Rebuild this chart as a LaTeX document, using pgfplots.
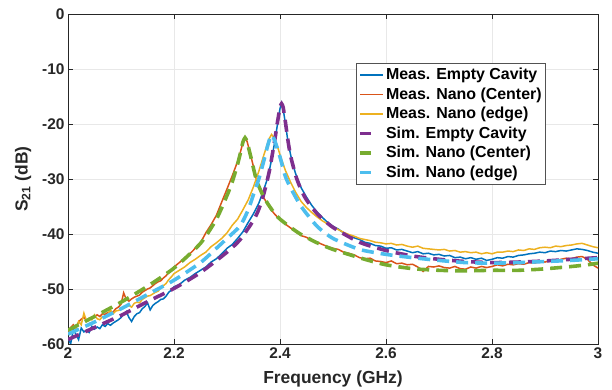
\documentclass[border=0pt]{standalone}
\usepackage{pgfplots}
\pgfplotsset{compat=1.18}
\usepackage{fontspec}
\setmainfont{Liberation Sans}
\definecolor{mblue}{rgb}{0,0.447,0.741}
\definecolor{morange}{rgb}{0.850,0.325,0.098}
\definecolor{myellow}{rgb}{0.929,0.694,0.125}
\definecolor{mpurple}{rgb}{0.494,0.184,0.556}
\definecolor{mgreen}{rgb}{0.466,0.674,0.188}
\definecolor{mlblue}{rgb}{0.301,0.745,0.933}
\definecolor{axc}{rgb}{0.15,0.15,0.15}
\pgfplotsset{
  simline/.style={line width=3.6pt, dash pattern=on 12bp off 7bp, smooth, tension=0.4,
    legend image code/.code={\draw[##1,solid] (0bp,0bp) -- (11bp,0bp);}},
  measline/.style={line width=1.5pt},
}
\begin{document}
\begin{tikzpicture}
\useasboundingbox (-68bp,-46bp) rectangle (544bp,344bp);
\begin{axis}[
  scale only axis,
  width=530bp, height=330bp,
  xmin=2, xmax=3, ymin=-60, ymax=0,
  xtick={2,2.2,2.4,2.6,2.8,3},
  xticklabels={2,2.2,2.4,2.6,2.8,3},
  ytick={-60,-50,-40,-30,-20,-10,0},
  yticklabels={-60,-50,-40,-30,-20,-10,0},
  tick align=inside,
  major tick length=5bp,
  tick style={axc, line width=0.6pt},
  axis line style={axc, line width=0.8pt},
  grid=major,
  major grid style={black!9, line width=0.5pt},
  tick label style={font=\fontsize{15.5}{17}\selectfont\bfseries, text=axc},
  xlabel={Frequency (GHz)},
  ylabel={S\textsubscript{21} (dB)},
  label style={font=\fontsize{17.5}{19}\selectfont\bfseries, text=axc},
  xlabel style={yshift=-6bp},
  ylabel style={yshift=4bp},
  legend cell align=left,
  legend style={at={(0.902,0.852)}, anchor=north east,
    font=\fontsize{16}{17.5}\selectfont\bfseries,
    draw=axc!80, line width=0.8pt, fill=white,
    row sep=2.5bp, inner xsep=2bp, inner ysep=3bp},
  legend image code/.code={\draw[#1,line width=1.5pt] (0bp,0bp) -- (23bp,0bp);},
]
% Meas. Empty Cavity
\addplot[mblue, measline] table {
2.000 -58.9
2.005 -60.0
2.010 -57.4
2.015 -58.2
2.020 -59.2
2.025 -57.1
2.030 -57.8
2.035 -57.5
2.040 -57.9
2.045 -56.8
2.050 -57.3
2.055 -56.9
2.060 -57.2
2.065 -56.5
2.070 -56.8
2.075 -56.3
2.080 -56.6
2.085 -56.2
2.090 -55.9
2.095 -55.6
2.100 -55.2
2.105 -54.6
2.110 -54.1
2.115 -55.2
2.120 -55.9
2.125 -55.0
2.130 -54.5
2.135 -54.3
2.140 -53.6
2.145 -53.2
2.150 -52.5
2.155 -53.8
2.160 -53.0
2.165 -52.6
2.170 -52.3
2.175 -51.9
2.180 -51.8
2.185 -51.3
2.190 -50.6
2.195 -50.2
2.200 -49.6
2.210 -49.2
2.220 -48.4
2.230 -47.9
2.240 -47.2
2.250 -46.6
2.260 -46.0
2.270 -45.1
2.280 -44.5
2.290 -43.6
2.300 -42.6
2.310 -41.9
2.320 -40.8
2.330 -39.6
2.340 -37.9
2.350 -36.3
2.360 -34.4
2.370 -31.8
2.375 -30.3
2.380 -28.4
2.385 -26.0
2.390 -23.3
2.395 -20.2
2.400 -17.2
2.403 -16.2
2.406 -17.3
2.410 -19.8
2.415 -23.2
2.420 -25.6
2.425 -27.6
2.430 -29.2
2.440 -31.6
2.450 -33.3
2.460 -34.8
2.470 -36.0
2.480 -37.0
2.490 -37.9
2.500 -38.6
2.510 -39.1
2.520 -39.8
2.530 -40.2
2.540 -40.7
2.550 -41.0
2.560 -41.5
2.570 -41.7
2.580 -42.1
2.590 -42.2
2.600 -42.6
2.610 -42.5
2.620 -42.9
2.630 -42.8
2.640 -43.1
2.650 -43.4
2.660 -43.2
2.670 -43.6
2.680 -43.5
2.690 -43.8
2.700 -43.7
2.710 -44.0
2.720 -43.9
2.730 -44.3
2.740 -44.2
2.750 -44.5
2.760 -44.3
2.770 -44.6
2.780 -44.4
2.790 -44.8
2.800 -44.6
2.810 -44.3
2.820 -44.4
2.830 -44.1
2.840 -44.2
2.850 -43.9
2.860 -43.8
2.870 -43.6
2.880 -43.5
2.890 -43.3
2.900 -43.4
2.910 -43.1
2.920 -43.2
2.930 -43.0
2.940 -43.1
2.950 -42.9
2.960 -42.7
2.970 -42.8
2.980 -43.0
2.990 -43.3
3.000 -43.5
};
\addlegendentry{Meas. Empty Cavity}
% Meas. Nano (Center)
\addplot[morange, measline] table {
2.000 -57.7
2.005 -57.0
2.010 -56.5
2.015 -57.1
2.020 -56.0
2.025 -55.5
2.030 -55.1
2.035 -55.8
2.040 -55.6
2.045 -55.2
2.050 -55.0
2.055 -54.7
2.060 -55.0
2.065 -54.5
2.070 -54.6
2.075 -54.3
2.080 -54.1
2.085 -54.2
2.090 -53.6
2.095 -53.3
2.100 -52.8
2.105 -50.7
2.110 -51.9
2.115 -52.2
2.120 -51.8
2.125 -51.5
2.130 -51.3
2.135 -51.1
2.140 -50.6
2.145 -50.3
2.150 -50.0
2.155 -49.8
2.160 -49.4
2.165 -49.0
2.170 -48.7
2.175 -48.5
2.180 -48.0
2.185 -47.6
2.190 -47.0
2.195 -46.6
2.200 -46.0
2.210 -45.2
2.220 -44.4
2.230 -43.6
2.240 -42.6
2.250 -41.6
2.260 -39.8
2.270 -38.3
2.280 -36.6
2.290 -34.2
2.300 -31.8
2.310 -29.4
2.320 -26.8
2.325 -25.2
2.330 -23.4
2.334 -22.5
2.338 -23.2
2.345 -25.8
2.350 -27.8
2.355 -29.9
2.360 -31.5
2.370 -33.5
2.380 -35.2
2.390 -36.4
2.400 -37.4
2.410 -38.2
2.420 -38.9
2.430 -39.6
2.440 -40.3
2.450 -40.6
2.460 -41.2
2.470 -41.5
2.480 -41.9
2.490 -42.3
2.500 -42.6
2.510 -42.8
2.520 -43.3
2.530 -43.5
2.540 -43.8
2.550 -44.3
2.560 -44.5
2.570 -44.4
2.580 -44.9
2.590 -45.0
2.600 -45.2
2.610 -44.9
2.620 -45.4
2.630 -45.3
2.640 -45.6
2.650 -45.5
2.660 -46.0
2.670 -46.8
2.680 -45.9
2.690 -46.0
2.700 -45.8
2.710 -46.1
2.720 -46.2
2.730 -45.9
2.740 -46.3
2.750 -46.4
2.760 -46.0
2.770 -46.2
2.780 -45.9
2.790 -46.1
2.800 -45.9
2.810 -45.6
2.820 -45.8
2.830 -45.5
2.840 -45.6
2.850 -45.4
2.860 -45.5
2.870 -45.2
2.880 -45.3
2.890 -45.0
2.900 -45.1
2.910 -44.8
2.920 -44.9
2.930 -44.6
2.940 -44.4
2.950 -44.5
2.960 -44.2
2.970 -44.1
2.980 -44.6
2.990 -45.6
3.000 -46.2
};
\addlegendentry{Meas. Nano (Center)}
% Meas. Nano (edge)
\addplot[myellow, measline] table {
2.000 -57.4
2.005 -57.8
2.010 -56.8
2.015 -57.2
2.020 -55.9
2.025 -56.5
2.030 -54.4
2.035 -55.8
2.040 -55.3
2.045 -55.6
2.050 -54.7
2.055 -55.4
2.060 -55.6
2.065 -55.0
2.070 -55.2
2.075 -54.6
2.080 -53.8
2.085 -54.5
2.090 -54.0
2.095 -53.9
2.100 -53.7
2.105 -53.4
2.110 -53.2
2.115 -53.0
2.120 -53.3
2.125 -52.6
2.130 -52.4
2.135 -52.5
2.140 -51.9
2.145 -51.6
2.150 -51.3
2.155 -51.2
2.160 -50.9
2.165 -50.6
2.170 -50.4
2.175 -49.8
2.180 -49.4
2.185 -49.0
2.190 -48.3
2.195 -47.8
2.200 -47.2
2.210 -46.6
2.220 -46.0
2.230 -45.2
2.240 -44.6
2.250 -43.9
2.260 -43.3
2.270 -42.3
2.280 -41.6
2.290 -40.8
2.300 -39.8
2.310 -38.4
2.320 -37.3
2.330 -35.6
2.340 -33.8
2.350 -31.4
2.360 -28.6
2.370 -25.5
2.375 -24.0
2.380 -22.6
2.384 -21.9
2.388 -22.4
2.395 -24.0
2.400 -25.6
2.410 -28.4
2.420 -30.6
2.430 -32.5
2.440 -34.1
2.450 -35.2
2.460 -36.1
2.470 -36.9
2.480 -37.6
2.490 -38.2
2.500 -38.7
2.510 -39.2
2.520 -39.7
2.530 -40.1
2.540 -40.4
2.550 -40.8
2.560 -41.0
2.570 -41.2
2.580 -41.5
2.590 -41.6
2.600 -41.8
2.610 -41.7
2.620 -42.0
2.630 -41.9
2.640 -42.2
2.650 -42.4
2.660 -42.2
2.670 -42.6
2.680 -42.7
2.690 -42.8
2.700 -42.9
2.710 -42.8
2.720 -43.1
2.730 -43.0
2.740 -43.3
2.750 -43.2
2.760 -43.4
2.770 -43.3
2.780 -43.6
2.790 -43.4
2.800 -43.6
2.810 -43.3
2.820 -43.3
2.830 -43.1
2.840 -43.2
2.850 -42.9
2.860 -43.0
2.870 -42.7
2.880 -42.8
2.890 -42.5
2.900 -42.4
2.910 -42.5
2.920 -42.2
2.930 -42.3
2.940 -42.1
2.950 -42.0
2.960 -41.8
2.970 -41.7
2.980 -42.0
2.990 -42.3
3.000 -42.5
};
\addlegendentry{Meas. Nano (edge)}
% Sim. Empty Cavity
\addplot[mpurple, simline] table {
2.000 -59.2
2.050 -57.0
2.100 -54.8
2.150 -52.3
2.200 -49.9
2.250 -47.0
2.300 -43.3
2.325 -41.0
2.350 -37.5
2.360 -35.5
2.370 -32.5
2.380 -28.5
2.390 -23.0
2.395 -19.8
2.400 -17.0
2.403 -16.3
2.406 -17.0
2.410 -19.5
2.415 -23.0
2.420 -25.8
2.430 -29.5
2.440 -32.0
2.450 -33.8
2.470 -36.3
2.500 -38.8
2.550 -41.5
2.600 -43.0
2.650 -44.0
2.700 -44.6
2.750 -45.0
2.800 -45.2
2.850 -45.1
2.900 -44.9
2.950 -44.6
3.000 -44.3
};
\addlegendentry{Sim. Empty Cavity}
% Sim. Nano (Center)
\addplot[mgreen, simline] table {
2.000 -57.5
2.050 -55.0
2.100 -52.4
2.150 -49.5
2.200 -46.2
2.250 -41.7
2.280 -37.3
2.300 -33.0
2.310 -30.5
2.320 -27.3
2.325 -25.4
2.330 -23.3
2.334 -22.5
2.338 -23.3
2.345 -26.0
2.355 -30.0
2.365 -32.4
2.375 -34.2
2.390 -36.3
2.400 -37.3
2.420 -38.8
2.440 -40.1
2.470 -41.6
2.500 -42.8
2.560 -44.6
2.600 -45.6
2.650 -46.3
2.700 -46.6
2.750 -46.7
2.800 -46.6
2.850 -46.6
2.890 -46.4
2.940 -46.0
2.980 -45.6
3.000 -45.3
};
\addlegendentry{Sim. Nano (Center)}
% Sim. Nano (edge)
\addplot[mlblue, simline] table {
2.000 -58.2
2.050 -56.0
2.100 -53.6
2.150 -51.0
2.200 -48.4
2.250 -45.2
2.280 -42.6
2.300 -40.8
2.325 -38.5
2.340 -35.6
2.350 -32.8
2.360 -30.0
2.370 -26.5
2.378 -23.5
2.384 -22.0
2.390 -23.0
2.400 -26.0
2.410 -29.5
2.420 -31.6
2.440 -35.0
2.470 -38.6
2.500 -40.8
2.550 -42.8
2.600 -43.7
2.650 -44.3
2.700 -44.8
2.750 -45.2
2.800 -45.3
2.850 -45.2
2.900 -45.0
2.950 -44.8
3.000 -44.5
};
\addlegendentry{Sim. Nano (edge)}
\end{axis}
\end{tikzpicture}
\end{document}
